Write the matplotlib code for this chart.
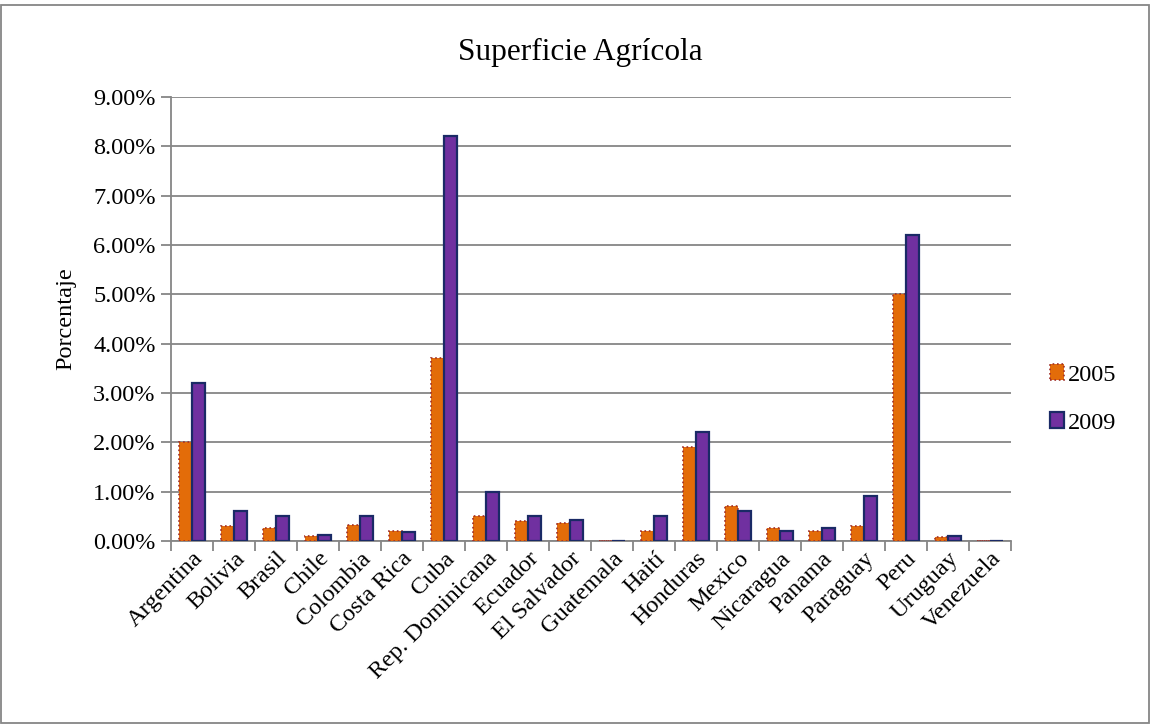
import numpy as np
import matplotlib.pyplot as plt
from matplotlib.patches import Rectangle
from matplotlib.ticker import FuncFormatter, FixedLocator

# Datos
paises = ['Argentina', 'Bolivia', 'Brasil', 'Chile', 'Colombia', 'Costa Rica',
          'Cuba', 'Rep. Dominicana', 'Ecuador', 'El Salvador', 'Guatemala',
          'Haití', 'Honduras', 'Mexico', 'Nicaragua', 'Panama', 'Paraguay',
          'Peru', 'Uruguay', 'Venezuela']
v2005 = [2.00, 0.30, 0.26, 0.10, 0.33, 0.20, 3.70, 0.50, 0.41, 0.36, 0.01,
         0.20, 1.91, 0.71, 0.26, 0.20, 0.30, 5.00, 0.09, 0.01]
v2009 = [3.20, 0.61, 0.50, 0.12, 0.50, 0.18, 8.20, 1.00, 0.50, 0.43, 0.01,
         0.50, 2.20, 0.61, 0.21, 0.26, 0.91, 6.20, 0.11, 0.01]

plt.rcParams['font.family'] = ['Liberation Serif', 'DejaVu Serif']

fig = plt.figure(figsize=(11.51, 7.25), dpi=100)
ax = fig.add_axes([171 / 1151, 1 - 541 / 725, 840 / 1151, 444 / 725])

x = np.arange(len(paises))
w = 0.3
ax.bar(x - w / 2, v2005, w, color='#E36C09', edgecolor='#A0302A',
       linestyle=':', linewidth=1.2, label='2005', zorder=3)
ax.bar(x + w / 2, v2009, w, color='#7030A0', edgecolor='#1A2A66',
       linewidth=1.6, label='2009', zorder=3)

ax.set_xlim(-0.5, len(paises) - 0.5)
ax.set_ylim(0, 9)
ax.set_yticks(np.arange(0, 9.01, 1))
ax.yaxis.set_major_formatter(FuncFormatter(lambda v, p: f'{v:.2f}%'))
ax.grid(axis='y', color='#868686', linewidth=1.3, zorder=0)

ax.set_xticks(x)
ax.set_xticklabels(paises, rotation=45, ha='right', rotation_mode='anchor',
                   fontsize=17.5)
ax.tick_params(axis='x', length=0, pad=5)
ax.xaxis.set_minor_locator(FixedLocator(np.arange(-0.5, len(paises), 1)))
ax.tick_params(axis='x', which='minor', length=7, width=1.3, color='#868686')
ax.tick_params(axis='y', labelsize=17.5, length=7, width=1.3, color='#868686',
               pad=4)

for s in ['top', 'right']:
    ax.spines[s].set_visible(False)
for s in ['left', 'bottom']:
    ax.spines[s].set_color('#868686')
    ax.spines[s].set_linewidth(1.3)

ax.set_ylabel('Porcentaje', fontsize=17.5, labelpad=12)
fig.text(580 / 1151, 1 - 52 / 725, 'Superficie Agrícola', fontsize=22.5,
         ha='center', va='center')

ax.legend(loc='center left', bbox_to_anchor=(1.02, 0.32), frameon=False,
          fontsize=17.5, handlelength=0.6, handleheight=0.6, labelspacing=1.1,
          handletextpad=0.15)

fig.patches.append(Rectangle((0.001, 0.003), 0.997, 0.99, transform=fig.transFigure,
                             fill=False, edgecolor='#868686', linewidth=1.3))

fig.savefig('out.png', dpi=100)
